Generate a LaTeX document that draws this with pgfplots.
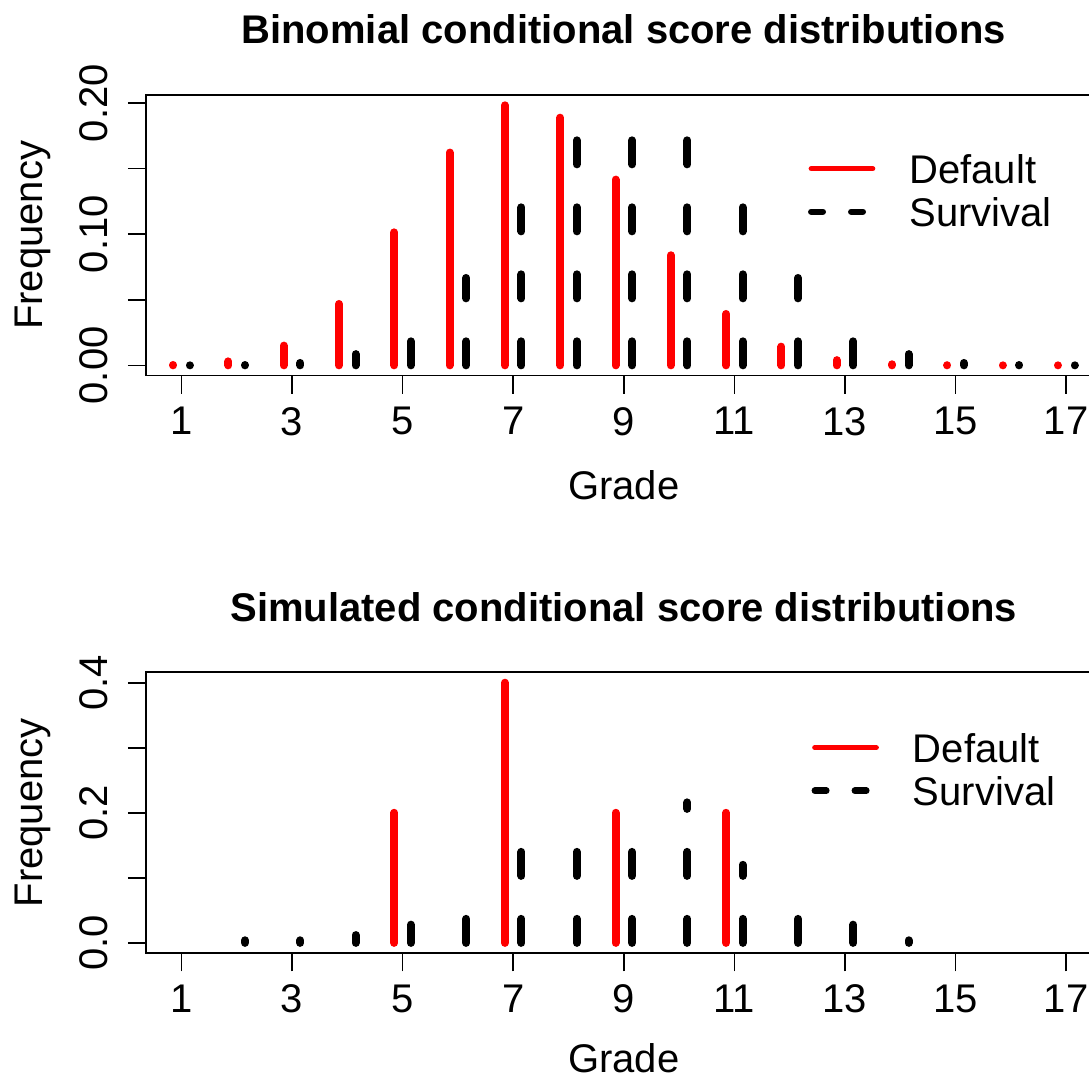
\documentclass[border=0pt]{standalone}
\usepackage{fontspec}
\setmainfont{Liberation Sans}
\usepackage{pgfplots}
\pgfplotsset{compat=1.18}
\usepackage{pgfplotstable}

\newcommand\fs{\fontsize{20}{24}\selectfont}
\newcommand\tfs{\bfseries\fontsize{20}{24}\selectfont}

\pgfplotstableread{
grade def surv
1 0.00028 0.0000153
2 0.00301 0.000244
3 0.01505 0.001831
4 0.04681 0.008545
5 0.10142 0.027771
6 0.16227 0.066650
7 0.19833 0.122192
8 0.18889 0.174561
9 0.14167 0.196381
10 0.08395 0.174561
11 0.03918 0.122192
12 0.01425 0.066650
13 0.00396 0.027771
14 0.00081 0.008545
15 0.00012 0.001831
16 0.00001 0.000244
17 0.0000004 0.0000153
}\binomtab

\pgfplotstableread{
grade def
5 0.2
7 0.4
9 0.2
11 0.2
}\simdef

\pgfplotstableread{
grade surv
2 0.004
3 0.004
4 0.012
5 0.028
6 0.044
7 0.164
8 0.176
9 0.160
10 0.216
11 0.120
12 0.040
13 0.028
14 0.004
}\simsurv

\pgfplotsset{
  myaxis/.style={
    scale only axis, width=477.8pt,
    xmin=0.36, xmax=17.64,
    xtick={1,3,5,7,9,11,13,15,17},
    xticklabels={1,3,5,7,9,11,13,15,17},
    tick align=outside, tick pos=left, major tick length=9pt,
    axis line style={line width=0.8pt},
    tick style={line width=0.8pt, black},
    xticklabel style={anchor=north, inner sep=0pt, font=\fs},
    xticklabel shift=6.5pt,
    yticklabel style={rotate=90, anchor=base, inner sep=0pt, font=\fs},
    yticklabel shift=10pt,
    xlabel=Grade, ylabel=Frequency,
    label style={font=\fs},
    ylabel style={at={(axis description cs:-0.1078,0.5)}, anchor=base},
    title style={anchor=base, font=\tfs},
    clip=false,
    legend cell align=left,
    legend style={draw=none, fill=none, inner sep=0pt, outer sep=0pt,
      anchor=north west, row sep=7pt, column sep=16.75pt, font=\fs,
      nodes={inner sep=0pt, text height=14.5pt, text depth=0pt}},
  },
  defplot/.style={red, line width=4pt, line cap=round, ycomb, forget plot},
  survplot/.style={black, line width=4pt, line cap=round, dash pattern=on 12pt off 21.5pt, ycomb, forget plot},
}

\begin{document}
\begin{tikzpicture}
\path[use as bounding box] (0,0) rectangle (544.5pt,-539.5pt);

\begin{axis}[myaxis,
  at={(73pt,-47.5pt)}, anchor=north west, height=140.35pt,
  ymin=-0.0079, ymax=0.2062,
  ytick={0,0.05,0.1,0.15,0.2}, yticklabels={0.00,,0.10,,0.20},
  title={Binomial conditional score distributions},
  title style={at={(axis description cs:0.5,1.139)}},
  xlabel style={at={(axis description cs:0.5,-0.4418)}, anchor=base},
  legend style={at={(axis description cs:0.6928,0.789)}},
]
\addplot[defplot] table[x expr=\thisrow{grade}-0.15, y=def] {\binomtab};
\addplot[survplot] table[x expr=\thisrow{grade}+0.15, y=surv] {\binomtab};
\addlegendimage{legend image code/.code={\draw[red, line width=2.6pt, line cap=round] (0pt,0pt) -- (30.75pt,0pt);}}
\addlegendentry{Default}
\addlegendimage{legend image code/.code={\draw[black, line width=3.2pt, line cap=round, dash pattern=on 5.8pt off 14.2pt] (0pt,0pt) -- (30.75pt,0pt);}}
\addlegendentry{Survival}
\end{axis}

\begin{axis}[myaxis,
  at={(73pt,-336.15pt)}, anchor=north west, height=140.5pt,
  ymin=-0.016, ymax=0.416,
  ytick={0,0.1,0.2,0.3,0.4}, yticklabels={0.0,,0.2,,0.4},
  title={Simulated conditional score distributions},
  title style={at={(axis description cs:0.5,1.139)}},
  xlabel style={at={(axis description cs:0.5,-0.4235)}, anchor=base},
  legend style={at={(axis description cs:0.6965,0.7835)}},
]
\addplot[defplot] table[x expr=\thisrow{grade}-0.15, y=def] {\simdef};
\addplot[survplot] table[x expr=\thisrow{grade}+0.15, y=surv] {\simsurv};
\addlegendimage{legend image code/.code={\draw[red, line width=2.6pt, line cap=round] (0pt,0pt) -- (30.75pt,0pt);}}
\addlegendentry{Default}
\addlegendimage{legend image code/.code={\draw[black, line width=3.2pt, line cap=round, dash pattern=on 5.8pt off 14.2pt] (0pt,0pt) -- (30.75pt,0pt);}}
\addlegendentry{Survival}
\end{axis}
\end{tikzpicture}
\end{document}
